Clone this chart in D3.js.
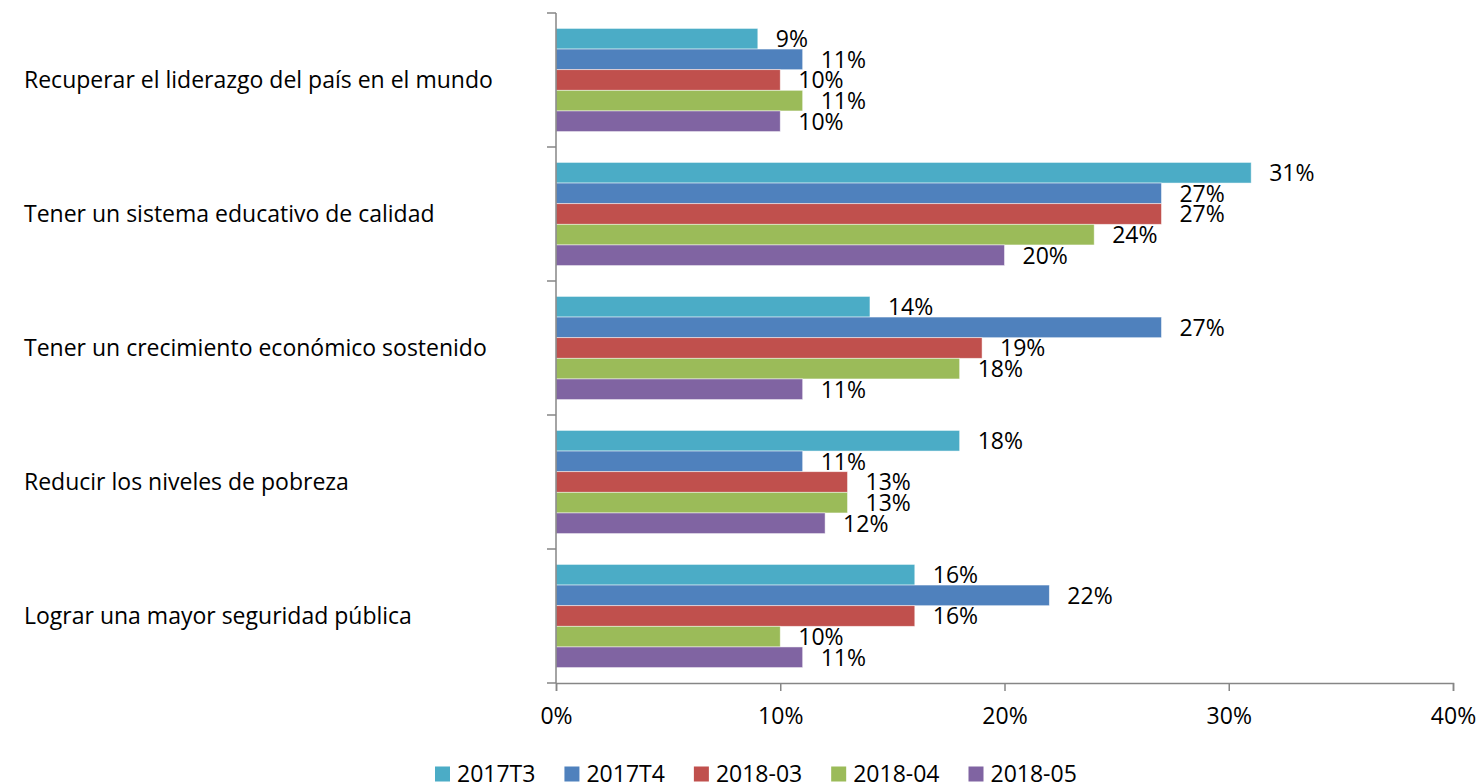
<!DOCTYPE html>
<html>
<head>
<meta charset="utf-8">
<script src="https://cdn.jsdelivr.net/npm/d3@7"></script>
<style>
  body { margin: 0; background: white; }
  svg { display: block; font-family: 'Open Sans', sans-serif; }
</style>
</head>
<body>
<svg id="chart" width="1479" height="784"></svg>
<script>
const categories = [
  'Recuperar el liderazgo del país en el mundo',
  'Tener un sistema educativo de calidad',
  'Tener un crecimiento económico sostenido',
  'Reducir los niveles de pobreza',
  'Lograr una mayor seguridad pública'
]
const seriesNames = ['2017T3', '2017T4', '2018-03', '2018-04', '2018-05']
const seriesColors = ['#4BACC6', '#4F81BD', '#C0504D', '#9BBB59', '#8064A2']
// values in %, one array per series, in category order
const v2017T3 = [9, 31, 14, 18, 16]
const v2017T4 = [11, 27, 27, 11, 22]
const v201803 = [10, 27, 19, 13, 16]
const v201804 = [11, 24, 18, 13, 10]
const v201805 = [10, 20, 11, 12, 11]
const seriesValues = [v2017T3, v2017T4, v201803, v201804, v201805]
const xTicks = [0, 10, 20, 30, 40]

const svg = d3.select('#chart')
const margin = { top: 13, right: 26, bottom: 101, left: 556 }
const width = 1479
const height = 784
const plotW = width - margin.left - margin.right
const plotH = height - margin.top - margin.bottom
const fontSize = 23

const x = d3.scaleLinear().domain([0, 40]).range([margin.left, margin.left + plotW])
const y = d3.scaleBand().domain(categories).range([margin.top, margin.top + plotH])
  .paddingInner(0.23).paddingOuter(0.115)
const ySub = d3.scaleBand().domain(seriesNames).range([0, y.bandwidth()])

const axisColor = '#868686'

// bars + value labels
categories.forEach((cat, ci) => {
  const g = svg.append('g').attr('transform', `translate(0,${y(cat)})`)
  seriesNames.forEach((s, si) => {
    const val = seriesValues[si][ci]
    g.append('rect')
      .attr('x', x(0))
      .attr('y', ySub(s))
      .attr('width', x(val) - x(0))
      .attr('height', ySub.bandwidth())
      .attr('fill', seriesColors[si])
      .attr('stroke', '#ffffff')
      .attr('stroke-opacity', 0.6)
      .attr('stroke-width', 0.8)
    g.append('text')
      .attr('x', x(val) + 18)
      .attr('y', ySub(s) + ySub.bandwidth() / 2)
      .attr('dy', '0.36em')
      .attr('font-size', fontSize)
      .attr('fill', '#000')
      .text(val + '%')
  })
})

// y axis line and ticks between categories
const yBoundaries = d3.range(categories.length + 1).map(i => margin.top + i * plotH / categories.length)
svg.append('line')
  .attr('x1', x(0)).attr('x2', x(0))
  .attr('y1', margin.top).attr('y2', margin.top + plotH)
  .attr('stroke', axisColor).attr('stroke-width', 1.5)
yBoundaries.forEach(b => {
  svg.append('line')
    .attr('x1', x(0) - 9).attr('x2', x(0))
    .attr('y1', b).attr('y2', b)
    .attr('stroke', axisColor).attr('stroke-width', 1.5)
})

// category labels
svg.append('g').selectAll('text')
  .data(categories)
  .join('text')
  .attr('x', 24)
  .attr('y', d => y(d) + y.bandwidth() / 2)
  .attr('dy', '0.36em')
  .attr('font-size', fontSize)
  .attr('fill', '#000')
  .text(d => d)

// x axis
const xAxis = d3.axisBottom(x).tickValues(xTicks).tickSize(8).tickPadding(17)
  .tickFormat(d => d + '%')
const gx = svg.append('g')
  .attr('transform', `translate(0,${margin.top + plotH})`)
  .call(xAxis)
gx.select('.domain').attr('stroke', axisColor).attr('stroke-width', 1.5)
gx.selectAll('.tick line').attr('stroke', axisColor).attr('stroke-width', 1.5)
gx.selectAll('.tick text')
  .attr('font-size', fontSize)
  .attr('font-family', "'Open Sans', sans-serif")
  .attr('fill', '#000')

// legend, flowed left to right
const legend = svg.append('g').attr('transform', 'translate(435,774)')
let lx = 0
seriesNames.forEach((s, i) => {
  legend.append('rect')
    .attr('x', lx).attr('y', -7.5)
    .attr('width', 15).attr('height', 15)
    .attr('fill', seriesColors[i])
  const t = legend.append('text')
    .attr('x', lx + 22).attr('y', 0)
    .attr('dy', '0.36em')
    .attr('font-size', fontSize)
    .attr('fill', '#000')
    .text(s)
  lx += 22 + t.node().getComputedTextLength() + 29
})
</script>
</body>
</html>
